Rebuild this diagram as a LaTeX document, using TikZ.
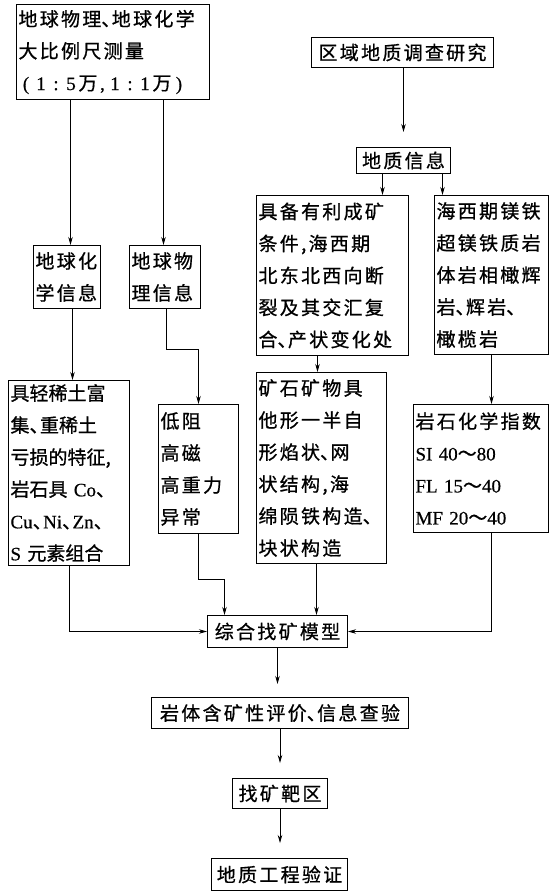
\documentclass[tikz,border=0pt]{standalone}
\usepackage{fontspec}
\setmainfont{Noto Sans CJK SC}[LetterSpace=12, FakeBold=0.8]
\newfontfamily\tight{Noto Sans CJK SC}[FakeBold=0.8]
\newfontfamily\lat{Liberation Serif}[FakeBold=0.5]
\usetikzlibrary{arrows.meta}
\newcommand\mydun{\makebox[0.55em][l]{、}}
\newcommand\ab[1]{\makebox[15pt]{\lat #1}}
\begin{document}
\begin{tikzpicture}[x=1pt,y=-1pt,
  every node/.style={font=\fontsize{19}{32}\selectfont},
  mbox/.style={draw, line width=1pt, inner xsep=2pt, inner ysep=0pt, align=left, anchor=north west},
  sbox/.style={draw, line width=1pt, inner sep=0pt, align=center, anchor=north west},
  arr/.style={line width=0.8pt, -{Stealth[length=8pt,width=4.5pt]}}]
\useasboundingbox (0,0) rectangle (551,891);

\node[mbox, text width=189, minimum height=95] (TL) at (16,4)
  {地球物理\mydun 地球化学\\大比例尺测量\\\ab{(}\ab{1}\ab{:}\ab{5}万\makebox[10pt]{\lat ,}\ab{1}\ab{:}\ab{1}万\ab{)}};
\node[sbox, minimum width=182, minimum height=30] (R1) at (311,37) {区域地质调查研究};
\node[sbox, minimum width=94, minimum height=26] (R2) at (356,147) {地质信息};
\node[mbox, text width=63, minimum height=63] (G1) at (33,245) {地球化\\学信息};
\node[mbox, text width=67, minimum height=63] (G2) at (129,245) {地球物\\理信息};
\node[mbox, text width=148, minimum height=160] (M1) at (256,195)
  {具备有利成矿\\条件,海西期\\北东北西向断\\裂及其交汇复\\合\mydun 产状变化处};
\node[mbox, text width=110, minimum height=159] (R3) at (434,195)
  {海西期镁铁\\超镁铁质岩\\体岩相橄辉\\岩\mydun 辉岩\mydun\\橄榄岩};
\node[mbox, text width=117, minimum height=185] (L1) at (8,380)
  {\tight 具轻稀土富\\集\mydun 重稀土\\亏损的特征,\\岩石具{\lat\ Co}\mydun\\{\lat Cu}\mydun{\lat Ni}\mydun{\lat Zn}\mydun\\{\lat S }元素组合};
\node[mbox, text width=76, minimum height=129] (L2) at (158,404)
  {低阻\\高磁\\高重力\\异常};
\node[mbox, text width=126, minimum height=191] (M2) at (256,372)
  {矿石矿物具\\他形一半自\\形焰状\mydun 网\\状结构,海\\绵陨铁构造\mydun\\块状构造};
\node[mbox, text width=131, minimum height=128] (R4) at (413,404)
  {岩石化学指数\\{\lat SI 40}～{\lat 80}\\{\lat FL 15}～{\lat 40}\\{\lat MF 20}～{\lat 40}};
\node[sbox, minimum width=140, minimum height=32] (C1) at (207,615) {综合找矿模型};
\node[sbox, minimum width=257, minimum height=31] (C2) at (151,697) {岩体含矿性评价\mydun 信息查验};
\node[sbox, minimum width=95, minimum height=30] (C3) at (232,778) {找矿靶区};
\node[sbox, minimum width=136, minimum height=32] (C4) at (211,858) {地质工程验证};

\draw[arr] ([xshift=3.5]G1.north |- TL.south) -- ([xshift=3.5]G1.north);
\draw[arr] ([xshift=-1.5]G2.north |- TL.south) -- ([xshift=-1.5]G2.north);
\draw[arr, shorten >=15pt] (R1.south -| R2.north) -- (R2.north);
\draw[arr] ([xshift=-21]R2.south) -- ([xshift=-21]R2.south |- M1.north);
\draw[arr] ([xshift=39]R2.south) -- ([xshift=39]R2.south |- R3.north);
\draw[arr] ([xshift=5.5]G1.south) -- ([xshift=5.5]G1.south |- L1.north);
\draw[arr] ([xshift=1.5]G2.south) -- ++(0,40) -| (L2.north);
\draw[arr] (L2.south) -- ++(0,45) -| ([xshift=-53]C1.north);
\draw[arr] (L1.south) |- (C1.west);
\draw[arr] ([xshift=-4]M2.north |- M1.south) -- ([xshift=-4]M2.north);
\draw[arr] ([xshift=-5]M2.south) -- ([xshift=-5]M2.south |- C1.north);
\draw[arr] (R3.south) -- (R3.south |- R4.north);
\draw[arr] (R4.south -| R3.south) |- (C1.east);
\draw[arr, shorten >=13pt] (C1.south) -- (C1.south |- C2.north);
\draw[arr, shorten >=15pt] (C3.north |- C2.south) -- (C3.north);
\draw[arr, shorten >=15pt] (C3.south) -- (C3.south |- C4.north);
\end{tikzpicture}
\end{document}
